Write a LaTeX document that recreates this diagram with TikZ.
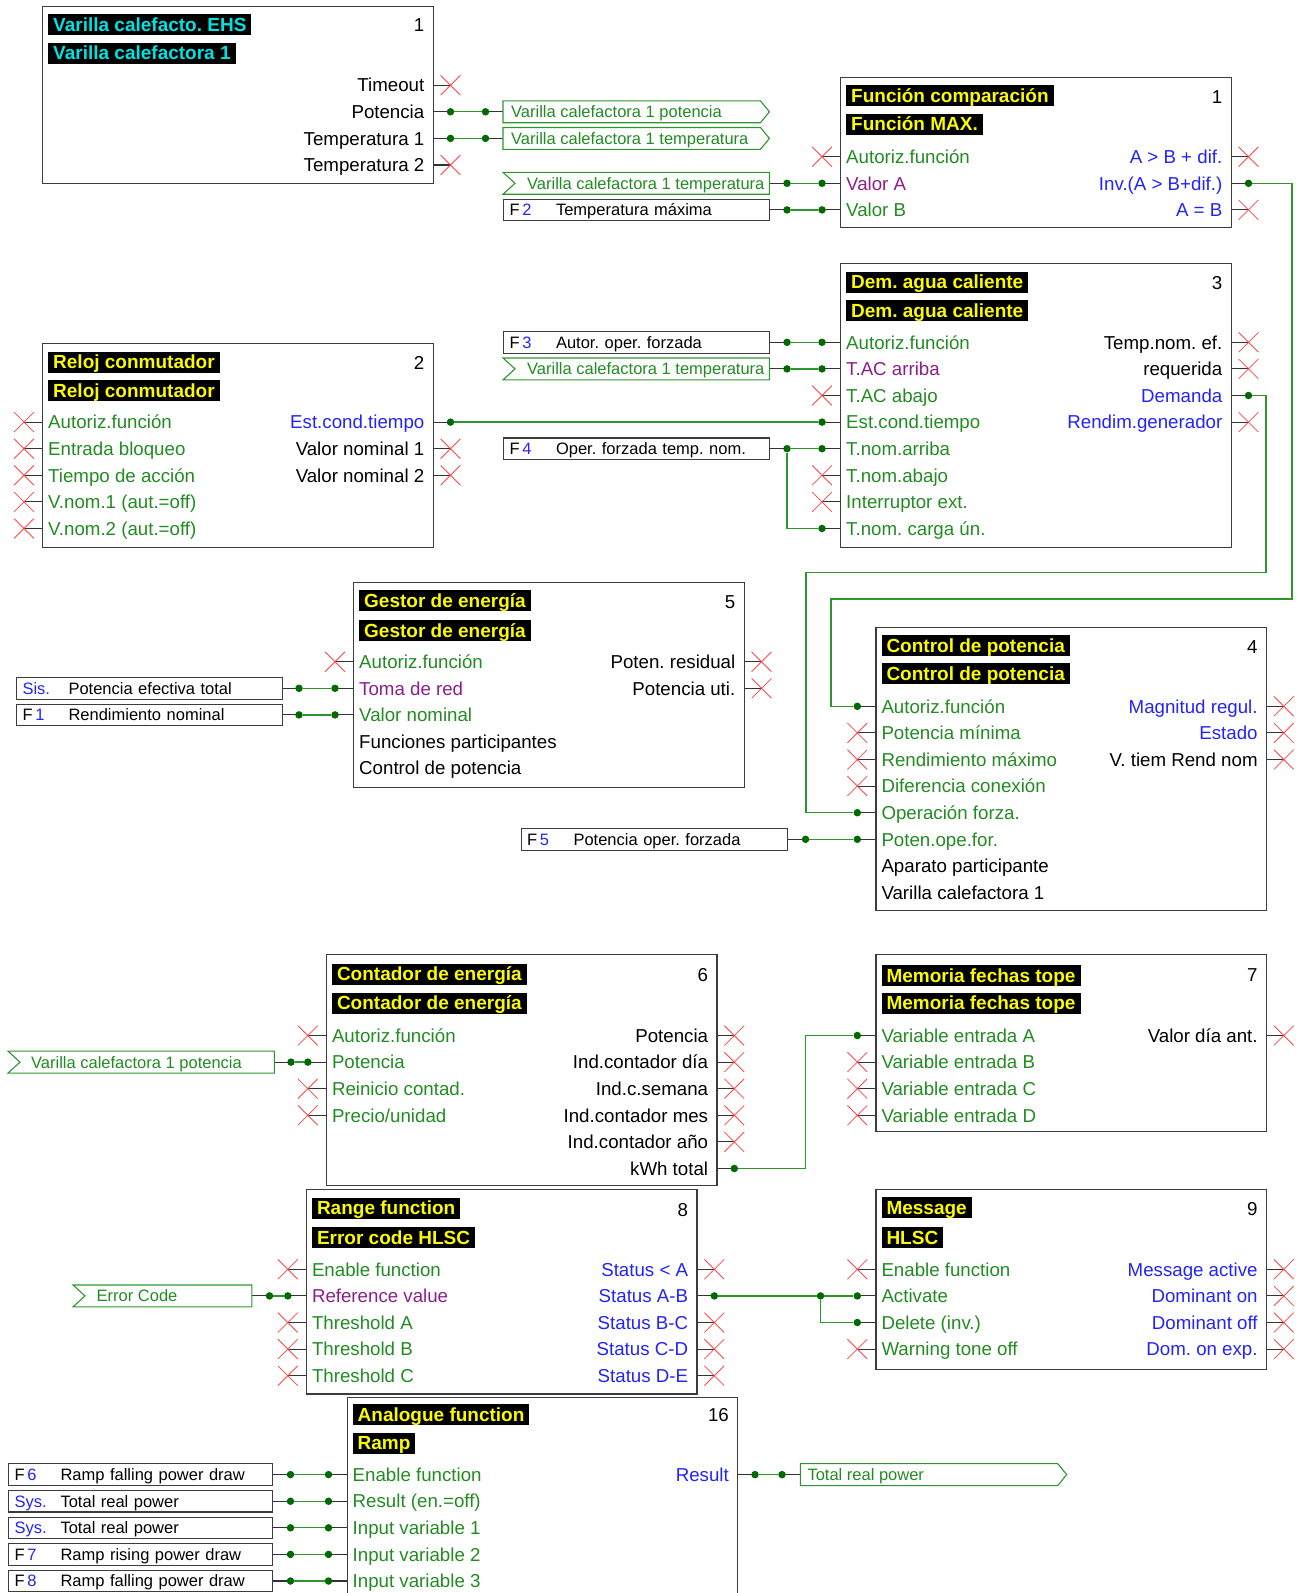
\documentclass[tikz,border=0pt]{standalone}
\usepackage{fontspec}
\setmainfont{Liberation Sans}
\usetikzlibrary{shapes.misc,positioning}
\pgfdeclarelayer{back}
\pgfsetlayers{back,main}
\frenchspacing

\definecolor{boxgray}{RGB}{60,60,60}
\definecolor{ingreen}{RGB}{34,139,34}
\definecolor{inpurple}{RGB}{140,30,140}
\definecolor{outblue}{RGB}{35,35,250}
\definecolor{wiregreen}{RGB}{45,150,45}
\definecolor{dotgreen}{RGB}{0,105,0}
\definecolor{xred}{RGB}{255,70,70}
\definecolor{titleyellow}{RGB}{250,250,0}
\definecolor{titlecyan}{RGB}{0,225,225}

\newcommand\pinfont{\fontsize{18.7}{22}\selectfont}
\newcommand\tagfont{\fontsize{16.5}{19}\selectfont}
\newcommand\ttlfont{\fontsize{19}{22}\selectfont\bfseries}

\begin{document}
\begin{tikzpicture}[x=1pt, y=-1pt,
    fblock/.style={draw=boxgray, line width=1.4pt, anchor=north west, minimum width=390.5pt, inner sep=0pt},
    ttl/.style={fill=black, text=titleyellow, anchor=west, font=\ttlfont, inner xsep=5pt, inner ysep=0.2pt, text height=16.8pt, text depth=3.8pt},
    ptxt/.style={inner sep=0pt, font=\pinfont, text height=13.4pt, text depth=0pt},
    ptl/.style={ptxt, anchor=west},
    ptr/.style={ptxt, anchor=east},
    xpin/.style={cross out, draw=xred, line width=0.8pt, minimum size=19pt, inner sep=0pt},
    jdot/.style={circle, fill=dotgreen, inner sep=0pt, minimum size=7.5pt},
    stub/.style={draw=black!80, line width=1.1pt},
    wire/.style={draw=wiregreen, line width=1.3pt},
    tagbody/.style={anchor=west, minimum height=21.5pt, inner sep=0pt},
    tagtxt/.style={anchor=west, inner sep=0pt, font=\tagfont, text=ingreen, text height=11.8pt, text depth=0pt},
    tagline/.style={draw=wiregreen, line width=1.1pt},
    fbox/.style={draw=boxgray, line width=1.1pt, anchor=west, minimum width=266pt, minimum height=21.5pt, inner xsep=6pt, inner ysep=0pt, text width=254pt, align=left, font=\tagfont, text height=11.8pt, text depth=0pt},
]
    \useasboundingbox (0,0) rectangle (1306,1593);
    \clip (0,0) rectangle (1306,1593);

    \node[fblock, minimum height=177pt] (ehs) at (42,6) {};
    \node[ttl, text=titlecyan] (ehs-t1) at (48,24.5) {Varilla calefacto. EHS};
    \node[ttl, text=titlecyan] (ehs-t2) at (48,53.3) {Varilla calefactora 1};
    \node[ptr] (ehs-n) at (424.5,24.5) {1};
    \node[ptr] (ehs-o1) at (424.5,85.2) {Timeout};
    \node[ptr] (ehs-o2) at (424.5,111.8) {Potencia};
    \node[ptr] (ehs-o3) at (424.5,138.4) {Temperatura 1};
    \node[ptr] (ehs-o4) at (424.5,165) {Temperatura 2};
    \node[xpin] (ehs-po1) at (450.5,85.2) {};
    \node[jdot] (ehs-po2) at (450.5,111.8) {};
    \node[jdot] (ehs-po3) at (450.5,138.4) {};
    \node[xpin] (ehs-po4) at (450.5,165) {};

    \node[tagbody, minimum width=257pt] (vpot) at (503,111.8) {};
    \node[tagtxt, right=8pt of vpot.west] (vpot-t) {Varilla calefactora 1 potencia};
    \draw[tagline] (vpot.north west) -- (vpot.north east) -- ([xshift=9pt]vpot.east) -- (vpot.south east) -- (vpot.south west) -- cycle;
    \node[jdot] (vpot-p) at (485.5,111.8) {};
    \node[tagbody, minimum width=257pt] (vtmp) at (503,138.4) {};
    \node[tagtxt, right=8pt of vtmp.west] (vtmp-t) {Varilla calefactora 1 temperatura};
    \draw[tagline] (vtmp.north west) -- (vtmp.north east) -- ([xshift=9pt]vtmp.east) -- (vtmp.south east) -- (vtmp.south west) -- cycle;
    \node[jdot] (vtmp-p) at (485.5,138.4) {};

    \node[tagbody, minimum width=266pt] (vtin) at (503,183.3) {};
    \node[tagtxt, right=24pt of vtin.west] (vtin-t) {Varilla calefactora 1 temperatura};
    \draw[tagline] (vtin.north west) -- (vtin.north east) -- (vtin.south east) -- (vtin.south west) -- ([xshift=12pt]vtin.west) -- cycle;
    \node[jdot] (vtin-p) at (787,183.3) {};
    \node[fbox] (f2) at (503,209.9) {\makebox[46.5pt][l]{F\,\textcolor{outblue}{2}}Temperatura máxima};
    \node[jdot] (f2-p) at (787,209.9) {};

    \node[fblock, minimum height=150pt] (cmp) at (840,77) {};
    \node[ttl] (cmp-t1) at (846,95.6) {Función comparación};
    \node[ttl] (cmp-t2) at (846,124) {Función MAX.};
    \node[ptr] (cmp-n) at (1222.5,96.5) {1};
    \node[ptl, text=ingreen] (cmp-i1) at (846,156.7) {Autoriz.función};
    \node[ptl, text=inpurple] (cmp-i2) at (846,183.3) {Valor A};
    \node[ptl, text=ingreen] (cmp-i3) at (846,209.9) {Valor B};
    \node[ptr, text=outblue] (cmp-o1) at (1222.5,156.7) {A > B + dif.};
    \node[ptr, text=outblue] (cmp-o2) at (1222.5,183.3) {Inv.(A > B+dif.)};
    \node[ptr, text=outblue] (cmp-o3) at (1222.5,209.9) {A = B};
    \node[xpin] (cmp-pi1) at (822,156.7) {};
    \node[jdot] (cmp-pi2) at (822,183.3) {};
    \node[jdot] (cmp-pi3) at (822,209.9) {};
    \node[xpin] (cmp-po1) at (1248.5,156.7) {};
    \node[jdot] (cmp-po2) at (1248.5,183.3) {};
    \node[xpin] (cmp-po3) at (1248.5,209.9) {};

    \node[fblock, minimum height=204pt] (clk) at (42,342.7) {};
    \node[ttl] (clk-t1) at (48,362) {Reloj conmutador};
    \node[ttl] (clk-t2) at (48,390.5) {Reloj conmutador};
    \node[ptr] (clk-n) at (424.5,362.7) {2};
    \node[ptl, text=ingreen] (clk-i1) at (48,422.1) {Autoriz.función};
    \node[ptl, text=ingreen] (clk-i2) at (48,448.7) {Entrada bloqueo};
    \node[ptl, text=ingreen] (clk-i3) at (48,475.3) {Tiempo de acción};
    \node[ptl, text=ingreen] (clk-i4) at (48,501.9) {V.nom.1 (aut.=off)};
    \node[ptl, text=ingreen] (clk-i5) at (48,528.5) {V.nom.2 (aut.=off)};
    \node[ptr, text=outblue] (clk-o1) at (424.5,422.1) {Est.cond.tiempo};
    \node[ptr] (clk-o2) at (424.5,448.7) {Valor nominal 1};
    \node[ptr] (clk-o3) at (424.5,475.3) {Valor nominal 2};
    \node[xpin] (clk-pi1) at (24,422.1) {};
    \node[xpin] (clk-pi2) at (24,448.7) {};
    \node[xpin] (clk-pi3) at (24,475.3) {};
    \node[xpin] (clk-pi4) at (24,501.9) {};
    \node[xpin] (clk-pi5) at (24,528.5) {};
    \node[jdot] (clk-po1) at (450.5,422.1) {};
    \node[xpin] (clk-po2) at (450.5,448.7) {};
    \node[xpin] (clk-po3) at (450.5,475.3) {};

    \node[fblock, minimum height=284pt] (dhw) at (840,262.7) {};
    \node[ttl] (dhw-t1) at (846,282) {Dem. agua caliente};
    \node[ttl] (dhw-t2) at (846,310.5) {Dem. agua caliente};
    \node[ptr] (dhw-n) at (1222.5,282.7) {3};
    \node[ptl, text=ingreen] (dhw-i1) at (846,342.3) {Autoriz.función};
    \node[ptl, text=inpurple] (dhw-i2) at (846,368.9) {T.AC arriba};
    \node[ptl, text=ingreen] (dhw-i3) at (846,395.5) {T.AC abajo};
    \node[ptl, text=ingreen] (dhw-i4) at (846,422.1) {Est.cond.tiempo};
    \node[ptl, text=ingreen] (dhw-i5) at (846,448.7) {T.nom.arriba};
    \node[ptl, text=ingreen] (dhw-i6) at (846,475.3) {T.nom.abajo};
    \node[ptl, text=ingreen] (dhw-i7) at (846,501.9) {Interruptor ext.};
    \node[ptl, text=ingreen] (dhw-i8) at (846,528.5) {T.nom. carga ún.};
    \node[ptr] (dhw-o1) at (1222.5,342.3) {Temp.nom. ef.};
    \node[ptr] (dhw-o2) at (1222.5,368.9) {requerida};
    \node[ptr, text=outblue] (dhw-o3) at (1222.5,395.5) {Demanda};
    \node[ptr, text=outblue] (dhw-o4) at (1222.5,422.1) {Rendim.generador};
    \node[jdot] (dhw-pi1) at (822,342.3) {};
    \node[jdot] (dhw-pi2) at (822,368.9) {};
    \node[xpin] (dhw-pi3) at (822,395.5) {};
    \node[jdot] (dhw-pi4) at (822,422.1) {};
    \node[jdot] (dhw-pi5) at (822,448.7) {};
    \node[xpin] (dhw-pi6) at (822,475.3) {};
    \node[xpin] (dhw-pi7) at (822,501.9) {};
    \node[jdot] (dhw-pi8) at (822,528.5) {};
    \node[xpin] (dhw-po1) at (1248.5,342.3) {};
    \node[xpin] (dhw-po2) at (1248.5,368.9) {};
    \node[jdot] (dhw-po3) at (1248.5,395.5) {};
    \node[xpin] (dhw-po4) at (1248.5,422.1) {};

    \node[fbox] (f3) at (503,342.3) {\makebox[46.5pt][l]{F\,\textcolor{outblue}{3}}Autor. oper. forzada};
    \node[jdot] (f3-p) at (787,342.3) {};
    \node[tagbody, minimum width=266pt] (vtin2) at (503,368.9) {};
    \node[tagtxt, right=24pt of vtin2.west] (vtin2-t) {Varilla calefactora 1 temperatura};
    \draw[tagline] (vtin2.north west) -- (vtin2.north east) -- (vtin2.south east) -- (vtin2.south west) -- ([xshift=12pt]vtin2.west) -- cycle;
    \node[jdot] (vtin2-p) at (787,368.9) {};
    \node[fbox] (f4) at (503,448.7) {\makebox[46.5pt][l]{F\,\textcolor{outblue}{4}}Oper. forzada temp. nom.};
    \node[jdot] (f4-p) at (787,448.7) {};

    \node[fblock, minimum height=205pt] (mgr) at (353,582) {};
    \node[ttl] (mgr-t1) at (359,600.5) {Gestor de energía};
    \node[ttl] (mgr-t2) at (359,630.5) {Gestor de energía};
    \node[ptr] (mgr-n) at (735.5,601.7) {5};
    \node[ptl, text=ingreen] (mgr-i1) at (359,661.7) {Autoriz.función};
    \node[ptl, text=inpurple] (mgr-i2) at (359,688.3) {Toma de red};
    \node[ptl, text=ingreen] (mgr-i3) at (359,714.9) {Valor nominal};
    \node[ptl] (mgr-i4) at (359,741.5) {Funciones participantes};
    \node[ptl] (mgr-i5) at (359,768.1) {Control de potencia};
    \node[ptr] (mgr-o1) at (735.5,661.7) {Poten. residual};
    \node[ptr] (mgr-o2) at (735.5,688.3) {Potencia uti.};
    \node[xpin] (mgr-pi1) at (335,661.7) {};
    \node[jdot] (mgr-pi2) at (335,688.3) {};
    \node[jdot] (mgr-pi3) at (335,714.9) {};
    \node[xpin] (mgr-po1) at (761.5,661.7) {};
    \node[xpin] (mgr-po2) at (761.5,688.3) {};

    \node[fbox] (sys) at (16,688.3) {\makebox[46pt][l]{\textcolor{outblue}{Sis.}}Potencia efectiva total};
    \node[jdot] (sys-p) at (299,688.3) {};
    \node[fbox] (f1) at (16,714.9) {\makebox[46pt][l]{F\,\textcolor{outblue}{1}}Rendimiento nominal};
    \node[jdot] (f1-p) at (299,714.9) {};

    \node[fblock, minimum height=283pt] (ctrl) at (875.3,626.7) {};
    \node[ttl] (ctrl-t1) at (881.3,645.5) {Control de potencia};
    \node[ttl] (ctrl-t2) at (881.3,673.8) {Control de potencia};
    \node[ptr] (ctrl-n) at (1257.8,646.7) {4};
    \node[ptl, text=ingreen] (ctrl-i1) at (881.3,706.3) {Autoriz.función};
    \node[ptl, text=ingreen] (ctrl-i2) at (881.3,732.9) {Potencia mínima};
    \node[ptl, text=ingreen] (ctrl-i3) at (881.3,759.5) {Rendimiento máximo};
    \node[ptl, text=ingreen] (ctrl-i4) at (881.3,786.1) {Diferencia conexión};
    \node[ptl, text=ingreen] (ctrl-i5) at (881.3,812.7) {Operación forza.};
    \node[ptl, text=ingreen] (ctrl-i6) at (881.3,839.3) {Poten.ope.for.};
    \node[ptl] (ctrl-i7) at (881.3,865.9) {Aparato participante};
    \node[ptl] (ctrl-i8) at (881.3,892.5) {Varilla calefactora 1};
    \node[ptr, text=outblue] (ctrl-o1) at (1257.8,706.3) {Magnitud regul.};
    \node[ptr, text=outblue] (ctrl-o2) at (1257.8,732.9) {Estado};
    \node[ptr] (ctrl-o3) at (1257.8,759.5) {V. tiem Rend nom};
    \node[jdot] (ctrl-pi1) at (857.3,706.3) {};
    \node[xpin] (ctrl-pi2) at (857.3,732.9) {};
    \node[xpin] (ctrl-pi3) at (857.3,759.5) {};
    \node[xpin] (ctrl-pi4) at (857.3,786.1) {};
    \node[jdot] (ctrl-pi5) at (857.3,812.7) {};
    \node[jdot] (ctrl-pi6) at (857.3,839.3) {};
    \node[xpin] (ctrl-po1) at (1283.8,706.3) {};
    \node[xpin] (ctrl-po2) at (1283.8,732.9) {};
    \node[xpin] (ctrl-po3) at (1283.8,759.5) {};

    \node[fbox] (f5) at (520.5,839.3) {\makebox[46.5pt][l]{F\,\textcolor{outblue}{5}}Potencia oper. forzada};
    \node[jdot] (f5-p) at (805.5,839.3) {};

    \node[fblock, minimum height=230.5pt] (cnt) at (325.8,954) {};
    \node[ttl] (cnt-t1) at (331.8,974.3) {Contador de energía};
    \node[ttl] (cnt-t2) at (331.8,1003) {Contador de energía};
    \node[ptr] (cnt-n) at (708.3,975) {6};
    \node[ptl, text=ingreen] (cnt-i1) at (331.8,1035.5) {Autoriz.función};
    \node[ptl, text=ingreen] (cnt-i2) at (331.8,1062.1) {Potencia};
    \node[ptl, text=ingreen] (cnt-i3) at (331.8,1088.7) {Reinicio contad.};
    \node[ptl, text=ingreen] (cnt-i4) at (331.8,1115.3) {Precio/unidad};
    \node[ptr] (cnt-o1) at (708.3,1035.5) {Potencia};
    \node[ptr] (cnt-o2) at (708.3,1062.1) {Ind.contador día};
    \node[ptr] (cnt-o3) at (708.3,1088.7) {Ind.c.semana};
    \node[ptr] (cnt-o4) at (708.3,1115.3) {Ind.contador mes};
    \node[ptr] (cnt-o5) at (708.3,1141.9) {Ind.contador año};
    \node[ptr] (cnt-o6) at (708.3,1168.5) {kWh total};
    \node[xpin] (cnt-pi1) at (307.8,1035.5) {};
    \node[jdot] (cnt-pi2) at (307.8,1062.1) {};
    \node[xpin] (cnt-pi3) at (307.8,1088.7) {};
    \node[xpin] (cnt-pi4) at (307.8,1115.3) {};
    \node[xpin] (cnt-po1) at (734.3,1035.5) {};
    \node[xpin] (cnt-po2) at (734.3,1062.1) {};
    \node[xpin] (cnt-po3) at (734.3,1088.7) {};
    \node[xpin] (cnt-po4) at (734.3,1115.3) {};
    \node[xpin] (cnt-po5) at (734.3,1141.9) {};
    \node[jdot] (cnt-po6) at (734.3,1168.5) {};

    \node[tagbody, minimum width=266pt] (vpin) at (8,1062.1) {};
    \node[tagtxt, right=23pt of vpin.west] (vpin-t) {Varilla calefactora 1 potencia};
    \draw[tagline] (vpin.north west) -- (vpin.north east) -- (vpin.south east) -- (vpin.south west) -- ([xshift=12pt]vpin.west) -- cycle;
    \node[jdot] (vpin-p) at (291,1062.1) {};

    \node[fblock, minimum height=177pt] (mem) at (875.3,954) {};
    \node[ttl] (mem-t1) at (881.3,975.5) {Memoria fechas tope};
    \node[ttl] (mem-t2) at (881.3,1003) {Memoria fechas tope};
    \node[ptr] (mem-n) at (1257.8,975) {7};
    \node[ptl, text=ingreen] (mem-i1) at (881.3,1035.5) {Variable entrada A};
    \node[ptl, text=ingreen] (mem-i2) at (881.3,1062.1) {Variable entrada B};
    \node[ptl, text=ingreen] (mem-i3) at (881.3,1088.7) {Variable entrada C};
    \node[ptl, text=ingreen] (mem-i4) at (881.3,1115.3) {Variable entrada D};
    \node[ptr] (mem-o1) at (1257.8,1035.5) {Valor día ant.};
    \node[jdot] (mem-pi1) at (857.3,1035.5) {};
    \node[xpin] (mem-pi2) at (857.3,1062.1) {};
    \node[xpin] (mem-pi3) at (857.3,1088.7) {};
    \node[xpin] (mem-pi4) at (857.3,1115.3) {};
    \node[xpin] (mem-po1) at (1283.8,1035.5) {};

    \node[fblock, minimum height=204.3pt] (rng) at (305.8,1189) {};
    \node[ttl] (rng-t1) at (311.8,1208.3) {Range function};
    \node[ttl] (rng-t2) at (311.8,1237.5) {Error code HLSC};
    \node[ptr] (rng-n) at (688.3,1209.3) {8};
    \node[ptl, text=ingreen] (rng-i1) at (311.8,1269.3) {Enable function};
    \node[ptl, text=inpurple] (rng-i2) at (311.8,1295.9) {Reference value};
    \node[ptl, text=ingreen] (rng-i3) at (311.8,1322.5) {Threshold A};
    \node[ptl, text=ingreen] (rng-i4) at (311.8,1349.1) {Threshold B};
    \node[ptl, text=ingreen] (rng-i5) at (311.8,1375.7) {Threshold C};
    \node[ptr, text=outblue] (rng-o1) at (688.3,1269.3) {Status < A};
    \node[ptr, text=outblue] (rng-o2) at (688.3,1295.9) {Status A-B};
    \node[ptr, text=outblue] (rng-o3) at (688.3,1322.5) {Status B-C};
    \node[ptr, text=outblue] (rng-o4) at (688.3,1349.1) {Status C-D};
    \node[ptr, text=outblue] (rng-o5) at (688.3,1375.7) {Status D-E};
    \node[xpin] (rng-pi1) at (287.8,1269.3) {};
    \node[jdot] (rng-pi2) at (287.8,1295.9) {};
    \node[xpin] (rng-pi3) at (287.8,1322.5) {};
    \node[xpin] (rng-pi4) at (287.8,1349.1) {};
    \node[xpin] (rng-pi5) at (287.8,1375.7) {};
    \node[xpin] (rng-po1) at (714.3,1269.3) {};
    \node[jdot] (rng-po2) at (714.3,1295.9) {};
    \node[xpin] (rng-po3) at (714.3,1322.5) {};
    \node[xpin] (rng-po4) at (714.3,1349.1) {};
    \node[xpin] (rng-po5) at (714.3,1375.7) {};

    \node[tagbody, minimum width=178.5pt] (err) at (73,1295.9) {};
    \node[tagtxt, right=23.5pt of err.west] (err-t) {Error Code};
    \draw[tagline] (err.north west) -- (err.north east) -- (err.south east) -- (err.south west) -- ([xshift=12pt]err.west) -- cycle;
    \node[jdot] (err-p) at (269.5,1295.9) {};

    \node[fblock, minimum height=180.5pt] (msg) at (875.3,1188.5) {};
    \node[ttl] (msg-t1) at (881.3,1207.8) {Message};
    \node[ttl] (msg-t2) at (881.3,1237.5) {HLSC};
    \node[ptr] (msg-n) at (1257.8,1209) {9};
    \node[ptl, text=ingreen] (msg-i1) at (881.3,1269.3) {Enable function};
    \node[ptl, text=ingreen] (msg-i2) at (881.3,1295.9) {Activate};
    \node[ptl, text=ingreen] (msg-i3) at (881.3,1322.5) {Delete (inv.)};
    \node[ptl, text=ingreen] (msg-i4) at (881.3,1349.1) {Warning tone off};
    \node[ptr, text=outblue] (msg-o1) at (1257.8,1269.3) {Message active};
    \node[ptr, text=outblue] (msg-o2) at (1257.8,1295.9) {Dominant on};
    \node[ptr, text=outblue] (msg-o3) at (1257.8,1322.5) {Dominant off};
    \node[ptr, text=outblue] (msg-o4) at (1257.8,1349.1) {Dom. on exp.};
    \node[xpin] (msg-pi1) at (857.3,1269.3) {};
    \node[jdot] (msg-pi2) at (857.3,1295.9) {};
    \node[jdot] (msg-pi3) at (857.3,1322.5) {};
    \node[xpin] (msg-pi4) at (857.3,1349.1) {};
    \node[xpin] (msg-po1) at (1283.8,1269.3) {};
    \node[xpin] (msg-po2) at (1283.8,1295.9) {};
    \node[xpin] (msg-po3) at (1283.8,1322.5) {};
    \node[xpin] (msg-po4) at (1283.8,1349.1) {};
    \node[jdot] (jct) at (820.5,1295.9) {};

    \node[fblock, minimum height=240pt] (ana) at (346.5,1396.5) {};
    \node[ttl] (ana-t1) at (352.5,1414.7) {Analogue function};
    \node[ttl] (ana-t2) at (352.5,1443.2) {Ramp};
    \node[ptr] (ana-n) at (729,1414.7) {16};
    \node[ptl, text=ingreen] (ana-i1) at (352.5,1474.6) {Enable function};
    \node[ptl, text=ingreen] (ana-i2) at (352.5,1501.2) {Result (en.=off)};
    \node[ptl, text=ingreen] (ana-i3) at (352.5,1527.8) {Input variable 1};
    \node[ptl, text=ingreen] (ana-i4) at (352.5,1554.4) {Input variable 2};
    \node[ptl, text=ingreen] (ana-i5) at (352.5,1581) {Input variable 3};
    \node[ptr, text=outblue] (ana-o1) at (729,1474.6) {Result};
    \node[jdot] (ana-pi1) at (328.5,1474.6) {};
    \node[jdot] (ana-pi2) at (328.5,1501.2) {};
    \node[jdot] (ana-pi3) at (328.5,1527.8) {};
    \node[jdot] (ana-pi4) at (328.5,1554.4) {};
    \node[jdot] (ana-pi5) at (328.5,1581) {};
    \node[jdot] (ana-po1) at (755,1474.6) {};

    \node[fbox, minimum width=264pt, text width=252pt] (f6) at (8,1474.6) {\makebox[46pt][l]{F\,\textcolor{outblue}{6}}Ramp falling power draw};
    \node[fbox, minimum width=264pt, text width=252pt] (sysa) at (8,1501.2) {\makebox[46pt][l]{\textcolor{outblue}{Sys.}}Total real power};
    \node[fbox, minimum width=264pt, text width=252pt] (sysb) at (8,1527.8) {\makebox[46pt][l]{\textcolor{outblue}{Sys.}}Total real power};
    \node[fbox, minimum width=264pt, text width=252pt] (f7) at (8,1554.4) {\makebox[46pt][l]{F\,\textcolor{outblue}{7}}Ramp rising power draw};
    \node[fbox, minimum width=264pt, text width=252pt] (f8) at (8,1581) {\makebox[46pt][l]{F\,\textcolor{outblue}{8}}Ramp falling power draw};
    \node[jdot] (f6-p) at (290.5,1474.6) {};
    \node[jdot] (sysa-p) at (290.5,1501.2) {};
    \node[jdot] (sysb-p) at (290.5,1527.8) {};
    \node[jdot] (f7-p) at (290.5,1554.4) {};
    \node[jdot] (f8-p) at (290.5,1581) {};

    \node[tagbody, minimum width=257pt] (trp) at (800.3,1474.6) {};
    \node[tagtxt, right=7pt of trp.west] (trp-t) {Total real power};
    \draw[tagline] (trp.north west) -- (trp.north east) -- ([xshift=9pt]trp.east) -- (trp.south east) -- (trp.south west) -- cycle;
    \node[jdot] (trp-p) at (782,1474.6) {};

    \draw[wire] (ehs-po2) -- (vpot-p);
    \draw[wire] (ehs-po3) -- (vtmp-p);
    \draw[wire] (vtin-p) -- (cmp-pi2);
    \draw[wire] (f2-p) -- (cmp-pi3);
    \draw[wire] (cmp-po2) -- (1292,183.3) |- (831,599) |- (ctrl-pi1);
    \draw[wire] (f3-p) -- (dhw-pi1);
    \draw[wire] (vtin2-p) -- (dhw-pi2);
    \draw[wire] (clk-po1) -- (dhw-pi4);
    \draw[wire] (f4-p) -- (dhw-pi5);
    \draw[wire] (f4-p) |- (dhw-pi8);
    \draw[wire] (dhw-po3) -| (1266,572.7) -- (806,572.7) |- (ctrl-pi5);
    \draw[wire] (sys-p) -- (mgr-pi2);
    \draw[wire] (f1-p) -- (mgr-pi3);
    \draw[wire] (f5-p) -- (ctrl-pi6);
    \draw[wire] (vpin-p) -- (cnt-pi2);
    \draw[wire] (cnt-po6) -| (805.5,1035.5) -- (mem-pi1);
    \draw[wire] (err-p) -- (rng-pi2);
    \draw[wire] (rng-po2) -- (jct) -- (msg-pi2);
    \draw[wire] (jct) |- (msg-pi3);
    \draw[wire] (f6-p) -- (ana-pi1);
    \draw[wire] (sysa-p) -- (ana-pi2);
    \draw[wire] (sysb-p) -- (ana-pi3);
    \draw[wire] (f7-p) -- (ana-pi4);
    \draw[wire] (f8-p) -- (ana-pi5);
    \draw[wire] (ana-po1) -- (trp-p);

    \begin{pgfonlayer}{back}
        \foreach \b/\n in {ehs/4,cmp/3,clk/3,dhw/4,mgr/2,ctrl/3,cnt/6,mem/1,rng/5,msg/4,ana/1}
            \foreach \i in {1,...,\n}
                \draw[stub] (\b-po\i.center) -- (\b-po\i.center -| \b.east);
        \foreach \b/\n in {cmp/3,clk/5,dhw/8,mgr/3,ctrl/6,cnt/4,mem/4,rng/5,msg/4,ana/5}
            \foreach \i in {1,...,\n}
                \draw[stub] (\b-pi\i.center) -- (\b-pi\i.center -| \b.west);
        \foreach \t in {vpot,vtmp,trp}
            \draw[stub] (\t-p.center) -- (\t-p.center -| \t.west);
        \foreach \t in {vtin,f2,f3,vtin2,f4,sys,f1,f5,vpin,err,f6,sysa,sysb,f7,f8}
            \draw[stub] (\t-p.center) -- (\t-p.center -| \t.east);
    \end{pgfonlayer}
\end{tikzpicture}
\end{document}
